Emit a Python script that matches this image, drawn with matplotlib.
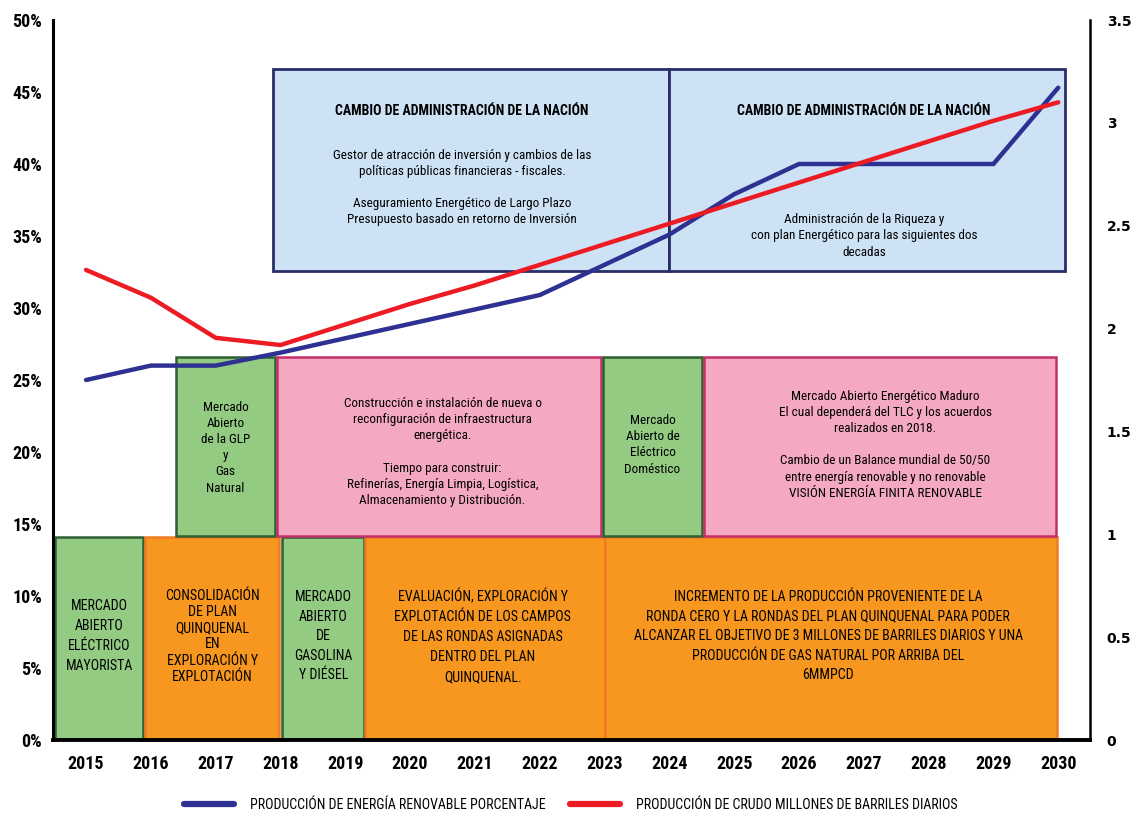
import matplotlib
matplotlib.use("Agg")
import matplotlib.pyplot as plt
from matplotlib.patches import Rectangle
from matplotlib.lines import Line2D
from matplotlib import font_manager as fm

# ---------------- data ----------------
years = [2015, 2016, 2017, 2018, 2019, 2020, 2021, 2022, 2023, 2024, 2025, 2026, 2027, 2028, 2029, 2030]
renovable_pct = [25.0, 26.0, 26.0, 26.9, 27.9, 28.9, 29.9, 30.9, 33.0, 35.1, 37.9, 40.0, 40.0, 40.0, 40.0, 45.3]
crudo_mbd = [2.285, 2.15, 1.955, 1.92, 2.02, 2.12, 2.21, 2.31, 2.41, 2.51, 2.61, 2.71, 2.81, 2.91, 3.01, 3.10]
left_ticks = [0, 5, 10, 15, 20, 25, 30, 35, 40, 45, 50]
right_ticks = [0, 0.5, 1, 1.5, 2, 2.5, 3, 3.5]
right_tick_labels = ["0", "0.5", "1", "1.5", "2", "2.5", "3", "3.5"]
legend_labels = ["PRODUCCIÓN DE ENERGÍA RENOVABLE PORCENTAJE",
                 "PRODUCCIÓN DE CRUDO MILLONES DE BARRILES DIARIOS"]

texts_bottom = [
    "MERCADO\nABIERTO\nELÉCTRICO\nMAYORISTA",
    "CONSOLIDACIÓN\nDE PLAN\nQUINQUENAL\nEN\nEXPLORACIÓN Y\nEXPLOTACIÓN",
    "MERCADO\nABIERTO\nDE\nGASOLINA\nY DIÉSEL",
    "EVALUACIÓN, EXPLORACIÓN Y\nEXPLOTACIÓN DE LOS CAMPOS\nDE LAS RONDAS ASIGNADAS\nDENTRO DEL PLAN\nQUINQUENAL.",
    "INCREMENTO DE LA PRODUCCIÓN PROVENIENTE DE LA\nRONDA CERO Y LA RONDAS DEL PLAN QUINQUENAL PARA PODER\n"
    "ALCANZAR EL OBJETIVO DE 3 MILLONES DE BARRILES DIARIOS Y UNA\nPRODUCCIÓN DE GAS NATURAL POR ARRIBA DEL\n6MMPCD",
]
texts_middle = [
    "Mercado\nAbierto\nde la GLP\ny\nGas\nNatural",
    "Construcción e instalación de nueva o\nreconfiguración de infraestructura\nenergética.\n\n"
    "Tiempo para construir:\nRefinerías, Energía Limpia, Logística,\nAlmacenamiento y Distribución.",
    "Mercado\nAbierto de\nEléctrico\nDoméstico",
    "Mercado Abierto Energético Maduro\nEl cual dependerá del TLC y los acuerdos\nrealizados en 2018.\n\n"
    "Cambio de un Balance mundial de 50/50\nentre energía renovable y no renovable\nVISIÓN ENERGÍA FINITA RENOVABLE",
]
title_top = "CAMBIO DE ADMINISTRACIÓN DE LA NACIÓN"
texts_top = [
    "Gestor de atracción de inversión y cambios de las\npolíticas públicas financieras - fiscales.\n\n"
    "Aseguramiento Energético de Largo Plazo\nPresupuesto basado en retorno de Inversión",
    "Administración de la Riqueza y\ncon plan Energético para las siguientes dos\ndecadas",
]

# ---------------- fonts ----------------
available = {f.name for f in fm.fontManager.ttflist}
prefs = ["Roboto Condensed", "Pragati Narrow", "Archivo Narrow", "PT Sans Narrow",
         "Liberation Sans Narrow", "Fira Sans Condensed", "IBM Plex Sans Condensed",
         "Barlow Semi Condensed", "Encode Sans Condensed", "Asap Condensed", "Open Sans Condensed"]
NARROW = [p for p in prefs if p in available][:1] + ["DejaVu Sans"]

BLUE = "#2E3192"
RED = "#ED1C24"
STY = {
    "green": dict(fc="#93CB82", ec="#2F5F33"),
    "orange": dict(fc="#F7971F", ec="#F07A22"),
    "pink": dict(fc="#F5A9C0", ec="#C2306A"),
    "lblue": dict(fc="#CDE3F5", ec="#2A2E68"),
}

fig = plt.figure(figsize=(11.37, 8.14), dpi=100)
ax = fig.add_axes([53 / 1137, 1 - 740 / 814, (1090 - 53) / 1137, (740 - 20) / 814])
ax2 = ax.twinx()

ax.set_xlim(2014.49, 2030.49)
ax.set_ylim(0, 50)
ax2.set_ylim(0, 3.5)

def box(x0, x1, y0, y1, kind, lw=1.8):
    ax.add_patch(Rectangle((x0, y0), x1 - x0, y1 - y0, lw=lw, zorder=2, **STY[kind]))

bottom_specs = [(2014.52, 2015.88, "green"), (2015.91, 2017.98, "orange"), (2018.02, 2019.29, "green"),
                (2019.31, 2023.01, "orange"), (2023.01, 2029.98, "orange")]
bottom_text_x = [2015.2, 2016.95, 2018.66, 2021.12, 2026.45]
bottom_text_y = [7.2, 7.2, 7.2, 7.2, 7.2]
bottom_spacing = [1.55, 1.2, 1.5, 1.55, 1.5]
for (x0, x1, k), t, tx, ty, ls in zip(bottom_specs, texts_bottom, bottom_text_x, bottom_text_y, bottom_spacing):
    box(x0, x1, 0.1, 14.1, k)
    ax.text(tx, ty, t, ha="center", va="center", fontsize=10, family=NARROW,
            linespacing=ls, zorder=3)

middle_specs = [(2016.39, 2017.92, "green"), (2017.95, 2022.95, "pink"),
                (2022.98, 2024.51, "green"), (2024.54, 2029.97, "pink")]
middle_text_x = [2017.15, 2020.5, 2023.74, 2027.33]
middle_text_y = [20.3, 20.0, 20.5, 20.5]
for (x0, x1, k), t, tx, ty in zip(middle_specs, texts_middle, middle_text_x, middle_text_y):
    box(x0, x1, 14.2, 26.6, k)
    ax.text(tx, ty, t, ha="center", va="center", fontsize=9.5, family=NARROW,
            linespacing=1.32, zorder=3)

top_specs = [(2017.89, 2023.99, "lblue"), (2023.99, 2030.11, "lblue")]
top_text_x = [2020.8, 2027.0]
top_text_y = [38.4, 35.0]
for (x0, x1, k), t, tx, ty in zip(top_specs, texts_top, top_text_x, top_text_y):
    box(x0, x1, 32.6, 46.6, k, lw=2.0)
    ax.text(tx, 43.7, title_top, ha="center", va="center", fontsize=10, family=NARROW,
            fontweight="bold", zorder=3)
    ax.text(tx, ty, t, ha="center", va="center", fontsize=9.5, family=NARROW,
            linespacing=1.3, zorder=3)

ax.plot(years, renovable_pct, color=BLUE, lw=3.2, zorder=5, solid_capstyle="round")
ax2.plot(years, crudo_mbd, color=RED, lw=3.2, zorder=5, solid_capstyle="round")

ax.set_xticks(years)
ax.set_xticklabels([str(y) for y in years], fontsize=13, fontweight="bold", family=NARROW)
ax.set_yticks(left_ticks)
ax.set_yticklabels([f"{v}%" for v in left_ticks], fontsize=13, fontweight="bold", family=NARROW)
ax2.set_yticks(right_ticks)
ax2.set_yticklabels(right_tick_labels, fontsize=10, fontweight="bold", family=["DejaVu Sans"])
ax.tick_params(axis="x", length=0, pad=11)
ax.tick_params(axis="y", length=0, pad=8)
ax2.tick_params(axis="y", length=0, pad=12)

for a in (ax, ax2):
    a.spines["top"].set_visible(False)
ax.spines["left"].set_linewidth(2.2)
ax.spines["bottom"].set_linewidth(2.8)
ax2.spines["right"].set_linewidth(1.8)
ax2.spines["left"].set_visible(False)
ax2.spines["bottom"].set_visible(False)
ax.spines["right"].set_visible(False)

handles = [Line2D([], [], color=BLUE, lw=4.5, solid_capstyle="round"),
           Line2D([], [], color=RED, lw=4.5, solid_capstyle="round")]
fig.legend(handles, legend_labels, loc="center", bbox_to_anchor=(0.502, 0.011), ncol=2,
           frameon=False, handlelength=3.6, columnspacing=1.8, handletextpad=1.1,
           prop={"family": NARROW, "size": 10})

fig.savefig("out.png", dpi=100)
